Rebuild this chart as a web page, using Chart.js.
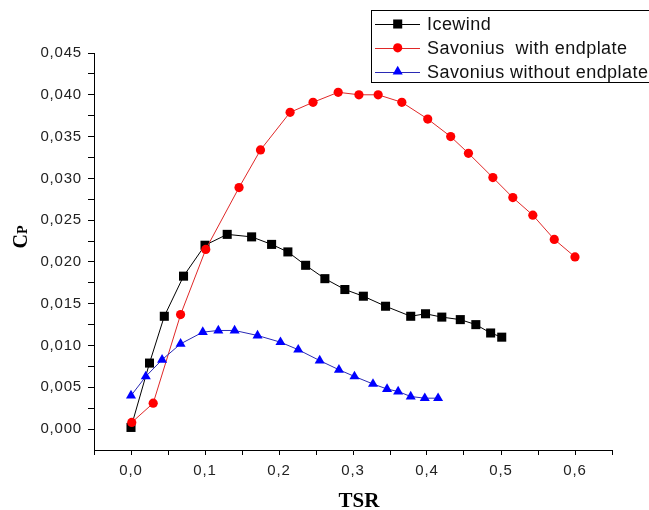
<!DOCTYPE html>
<html>
<head>
<meta charset="utf-8">
<script src="https://cdn.jsdelivr.net/npm/chart.js@4.4.0/dist/chart.umd.min.js"></script>
<style>
  body { margin: 0; background: #fff; }
  #wrap { width: 649px; height: 510px; }
</style>
</head>
<body>
<div id="wrap"><canvas id="chart" width="649" height="510"></canvas></div>
<script>
// valores
const icewindTsr = [0.000, 0.025, 0.045, 0.071, 0.100, 0.130, 0.163, 0.190, 0.212, 0.236, 0.262, 0.289, 0.314, 0.344, 0.378, 0.398, 0.420, 0.445, 0.466, 0.486, 0.501];
const icewindCp = [0.0002, 0.0079, 0.0135, 0.0183, 0.0220, 0.0233, 0.0230, 0.0221, 0.0212, 0.0196, 0.0180, 0.0167, 0.0159, 0.0147, 0.0135, 0.0138, 0.0134, 0.0131, 0.0125, 0.0115, 0.0110];

const conTsr = [0.001, 0.030, 0.067, 0.101, 0.146, 0.175, 0.215, 0.246, 0.280, 0.308, 0.334, 0.366, 0.401, 0.432, 0.456, 0.489, 0.516, 0.543, 0.572, 0.600];
const conCp = [0.0008, 0.0031, 0.0137, 0.0215, 0.0289, 0.0334, 0.0379, 0.0391, 0.0403, 0.0400, 0.0400, 0.0391, 0.0371, 0.0350, 0.0330, 0.0301, 0.0277, 0.0256, 0.0227, 0.0206];

const sinTsr = [0.000, 0.020, 0.042, 0.067, 0.097, 0.118, 0.140, 0.171, 0.202, 0.226, 0.255, 0.281, 0.302, 0.327, 0.346, 0.361, 0.378, 0.397, 0.415];
const sinCp = [0.0040, 0.0063, 0.0083, 0.0102, 0.0116, 0.0118, 0.0118, 0.0112, 0.0104, 0.0095, 0.0082, 0.0071, 0.0063, 0.0054, 0.0048, 0.0045, 0.0039, 0.0037, 0.0037];

const seriesNames = ["Icewind", "Savonius  with endplate", "Savonius without endplate"];
const xTickLabels = ["0,0", "0,1", "0,2", "0,3", "0,4", "0,5", "0,6"];
const yTickLabels = ["0,000", "0,005", "0,010", "0,015", "0,020", "0,025", "0,030", "0,035", "0,040", "0,045"];

function pares(xs, ys) {
    return xs.map((x, i) => ({ x: x, y: ys[i] }));
}

const estilos = [
    { line: "#000000", fill: "#000000", shape: "rect", r: 6.4 },
    { line: "#e02828", fill: "#ff0000", shape: "circle", r: 4.6 },
    { line: "#2a2ab4", fill: "#0000ff", shape: "triangle", r: 5.8 }
];

function marcador(ctx, shape, r, x, y) {
    ctx.beginPath();
    if (shape === "rect") {
        const s = Math.SQRT1_2 * r;
        ctx.rect(x - s, y - s, 2 * s, 2 * s);
    } else if (shape === "circle") {
        ctx.arc(x, y, r, 0, Math.PI * 2);
    } else {
        ctx.moveTo(x, y - r);
        ctx.lineTo(x + r * Math.sin(Math.PI * 2 / 3), y - r * Math.cos(Math.PI * 2 / 3));
        ctx.lineTo(x + r * Math.sin(Math.PI * 4 / 3), y - r * Math.cos(Math.PI * 4 / 3));
        ctx.closePath();
    }
    ctx.fill();
}

// leyenda y titulos de ejes dibujados a mano
const extras = {
    id: "extras",
    beforeDraw(chart) {
        // el original tiene el texto algo espaciado
        chart.ctx.letterSpacing = "0.8px";
    },
    afterDraw(chart) {
        const ctx = chart.ctx;
        ctx.save();
        ctx.letterSpacing = "0.45px";
        ctx.fillStyle = "#fff";
        ctx.fillRect(371.5, 10.5, 300, 72);
        ctx.strokeStyle = "#000";
        ctx.lineWidth = 1;
        ctx.strokeRect(371.5, 10.5, 300, 72);
        ctx.font = "18px 'Liberation Sans', Arial, sans-serif";
        ctx.textBaseline = "middle";
        seriesNames.forEach((name, i) => {
            const y = 24 + i * 23.8;
            const e = estilos[i];
            ctx.strokeStyle = e.line;
            ctx.beginPath();
            ctx.moveTo(375, Math.round(y) + 0.5);
            ctx.lineTo(420, Math.round(y) + 0.5);
            ctx.stroke();
            ctx.fillStyle = e.fill;
            marcador(ctx, e.shape, e.r, 397.7, y);
            ctx.fillStyle = "#111";
            ctx.fillText(name, 427, y + 1);
        });

        ctx.letterSpacing = "0px";
        ctx.fillStyle = "#000";
        ctx.font = "bold 21px 'Liberation Serif', 'Times New Roman', serif";
        ctx.textAlign = "center";
        ctx.textBaseline = "alphabetic";
        ctx.fillText("TSR", 359, 507);

        ctx.translate(26.5, 237);
        ctx.rotate(-Math.PI / 2);
        ctx.textAlign = "left";
        ctx.font = "bold 20px 'Liberation Serif', 'Times New Roman', serif";
        const wc = ctx.measureText("C").width;
        ctx.font = "bold 14px 'Liberation Serif', 'Times New Roman', serif";
        const wp = ctx.measureText("P").width;
        const x0 = -(wc + wp) / 2;
        ctx.font = "bold 20px 'Liberation Serif', 'Times New Roman', serif";
        ctx.fillText("C", x0, 0);
        ctx.font = "bold 14px 'Liberation Serif', 'Times New Roman', serif";
        ctx.fillText("P", x0 + wc, 0);
        ctx.restore();
        ctx.letterSpacing = "0px";
    }
};

const chart = new Chart(document.getElementById("chart").getContext("2d"), {
    type: "line",
    data: {
        datasets: [
            { label: seriesNames[0], data: pares(icewindTsr, icewindCp), order: 3 },
            { label: seriesNames[1], data: pares(conTsr, conCp), order: 2 },
            { label: seriesNames[2], data: pares(sinTsr, sinCp), order: 1 }
        ].map((d, i) => Object.assign(d, {
            borderColor: estilos[i].line,
            borderWidth: 1,
            backgroundColor: estilos[i].fill,
            pointBackgroundColor: estilos[i].fill,
            pointBorderColor: estilos[i].fill,
            pointBorderWidth: 0,
            pointStyle: estilos[i].shape,
            pointRadius: estilos[i].r,
            pointHoverRadius: estilos[i].r,
            tension: 0,
            fill: false
        }))
    },
    options: {
        responsive: false,
        animation: false,
        layout: { padding: { top: 53, right: 37, left: 0, bottom: 0 } },
        plugins: { legend: { display: false }, tooltip: { enabled: false } },
        scales: {
            x: {
                type: "linear",
                min: -0.05,
                max: 0.65,
                afterFit: s => { s.height = 60; },
                afterBuildTicks: s => {
                    s.ticks = [];
                    for (let i = -1; i <= 13; i++) s.ticks.push({ value: i * 0.05 });
                },
                ticks: {
                    autoSkip: false,
                    maxRotation: 0,
                    padding: 7,
                    color: "#222",
                    font: { family: "'Liberation Sans', Arial, sans-serif", size: 15 },
                    callback: (v, i) => (i >= 1 && (i - 1) % 2 === 0) ? xTickLabels[(i - 1) / 2] : ""
                },
                grid: { drawOnChartArea: false, drawTicks: true, tickLength: 5, color: "#000" },
                border: { display: true, color: "#000", width: 1 }
            },
            y: {
                type: "linear",
                min: -0.0025,
                max: 0.045,
                afterFit: s => { s.width = 94; },
                afterBuildTicks: s => {
                    s.ticks = [];
                    for (let i = 0; i <= 18; i++) s.ticks.push({ value: i * 0.0025 });
                },
                ticks: {
                    autoSkip: false,
                    padding: 6,
                    color: "#222",
                    font: { family: "'Liberation Sans', Arial, sans-serif", size: 15 },
                    callback: (v, i) => (i % 2 === 0) ? yTickLabels[i / 2] : ""
                },
                grid: { drawOnChartArea: false, drawTicks: true, tickLength: 6, color: "#000" },
                border: { display: true, color: "#000", width: 1 }
            }
        }
    },
    plugins: [extras]
});
</script>
</body>
</html>
